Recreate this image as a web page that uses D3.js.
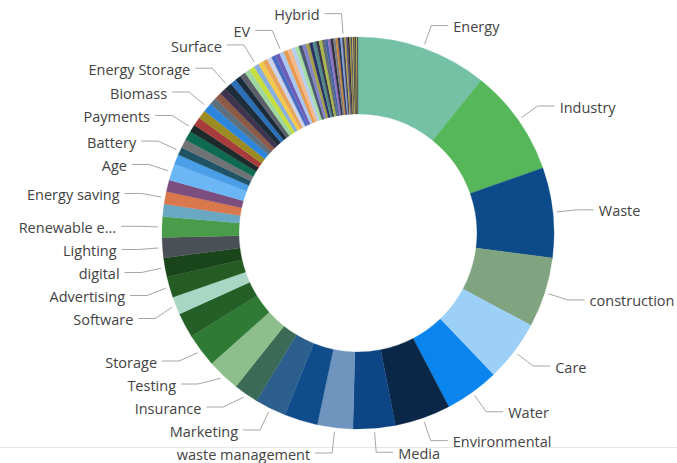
<!DOCTYPE html>
<html>
<head>
<meta charset="utf-8">
<script src="https://cdn.jsdelivr.net/npm/d3@7/dist/d3.min.js"></script>
<style>
  html, body { margin: 0; padding: 0; background: #ffffff; }
  svg { display: block; }
  .lbl { font-family: "Open Sans", "Noto Sans", sans-serif; font-size: 14.5px; fill: #434343; }
  .leader { fill: none; stroke: #a6a6a6; stroke-width: 1; }
</style>
</head>
<body>
<svg id="chart" width="677" height="463"></svg>
<script>
// Topics and their counts, in drawing order (clockwise from 12 o'clock)
const categories = [
  "Energy", "Industry", "Waste", "construction", "Care", "Water", "Environmental",
  "Media", "waste management", "Solar", "Marketing", "Insurance", "Testing", "Storage",
  "Recycling", "Software", "Advertising", "digital", "Lighting", "Renewable energy",
  "Hydrogen", "Energy saving", "Transport", "Age", "Agriculture", "Battery", "Finance",
  "Retail", "Payments", "Health", "Education", "Biomass", "Mobility", "Logistics",
  "Packaging", "Energy Storage",
  "Wind", "Heating", "Cooling", "Insulation", "Smart grid", "Surface", "Carbon capture",
  "Forestry", "Fisheries", "Tourism", "Housing", "EV", "Plastics", "Paper", "Glass",
  "Electronics", "Cloud", "Security", "Consulting", "Legal", "Design", "Research",
  "Training", "Recruitment", "Lending", "Charging", "Fuel cells", "Geothermal",
  "Nuclear", "Biofuel", "Irrigation", "Hybrid", "Desalination", "Textiles", "Food",
  "Chemicals", "Mining", "Steel", "Cement", "Aviation", "Shipping", "Rail", "Metering"
];

const values = [
  389, 317, 267, 208, 182, 161, 166,
  125, 105, 99, 93, 73, 98, 99,
  74, 53, 61, 57, 60, 61,
  37, 37, 35, 49, 29, 24, 25,
  28, 22, 25, 26, 27, 21, 21,
  20, 22,
  18, 17, 17, 16, 16, 15, 15,
  14, 14, 13, 13, 13, 12, 12, 12,
  11, 11, 11, 10, 10, 10, 9,
  9, 9, 8, 8, 8, 7,
  7, 7, 6, 6, 5, 5, 5,
  4, 4, 3, 3, 3, 3, 3, 2
];

// Topics whose names are written beside the ring
const labelled = [
  "Energy", "Industry", "Waste", "construction", "Care", "Water", "Environmental",
  "Media", "waste management", "Marketing", "Insurance", "Testing", "Storage",
  "Software", "Advertising", "digital", "Lighting", "Renewable energy", "Energy saving",
  "Age", "Battery", "Payments", "Biomass", "Energy Storage", "Surface", "EV", "Hybrid"
];

// Slice colours, one per topic
const palette = [
  "#74c1a6", "#55b65a", "#0c4a89", "#7fa47f", "#9dd0f6", "#0b85ee", "#0a2747",
  "#0d4585", "#6f95bf", "#0f4c8b", "#2c5f8e", "#3b6b56", "#8dbe8b", "#2f7a35",
  "#245f28", "#a8d8c5", "#245c24", "#1a451b", "#4b5057", "#4a9b4a",
  "#6aa7c2", "#d9784c", "#7c4d7f", "#6bb7f6", "#4a9fe8", "#1f5467", "#6f7375",
  "#0f6a52", "#1c2a2a", "#a83b3b", "#9b8b22", "#2c86dc", "#5e6f7d", "#8c5a47",
  "#3f3550", "#1e2d3a",
  "#2a6fb8", "#1c2b3a", "#5a5f6a", "#9ed6a0", "#c6de3e", "#88aee0", "#f2c94c",
  "#e9a45c", "#cbd3ea", "#4a6cc2", "#6e5db6", "#a8c8f2", "#e79a4e", "#f3b98a", "#b5cdef",
  "#a6dfa0", "#4b5872", "#8483c8", "#a3a046", "#2b3264", "#4e8c8c", "#3a3a4a",
  "#aaba4a", "#626a74", "#4262a4", "#9273c4", "#31313f", "#747c86",
  "#c2843e", "#2b3a5e", "#8ca0d8", "#3d4456", "#b7a24a", "#5b4e7e", "#2e2e36",
  "#a8963a", "#45506a", "#d4b84c", "#2f3440", "#8a7a3a", "#1f2530", "#c9b24a", "#333a48"
];

const W = 677, H = 463;
const cx = 358, cy = 233;
const rOuter = 196, rInner = 119;
const rLineStart = rOuter + 4, rElbow = 220;
const lineLen = 17, textGap = 22;
const rowGap = 23;             // vertical spacing of labels that would overlap
const yTop = 13 - cy, yBottom = 453 - cy;

const svg = d3.select("#chart");

// faint frame rule near the bottom edge
svg.append("line")
  .attr("x1", 0).attr("x2", W).attr("y1", 447.5).attr("y2", 447.5)
  .attr("stroke", "#e6e6e6").attr("stroke-width", 1);

const data = categories.map((c, i) => ({ name: c, value: values[i], color: palette[i % palette.length] }));

const pie = d3.pie().sort(null).value(d => d.value).startAngle(0).endAngle(2 * Math.PI);
const arcs = pie(data);

const arc = d3.arc().innerRadius(rInner).outerRadius(rOuter);

const g = svg.append("g").attr("transform", `translate(${cx},${cy})`);

g.selectAll("path.slice")
  .data(arcs)
  .join("path")
  .attr("class", "slice")
  .attr("d", arc)
  .attr("fill", d => d.data.color)
  .attr("stroke", d => d.data.color)
  .attr("stroke-width", 0.3);

// polar helper: angle measured clockwise from 12 o'clock
const polar = (r, a) => [r * Math.sin(a), -r * Math.cos(a)];

// elbow x for a label row at height y, kept on the elbow circle
const elbowX = (side, y, fallback) =>
  Math.abs(y) < rElbow - 1 ? side * Math.sqrt(rElbow * rElbow - y * y) : fallback;

const lg = g.append("g");

const labelSet = new Set(labelled);
const items = arcs.filter(d => labelSet.has(d.data.name)).map(d => {
  const a = (d.startAngle + d.endAngle) / 2;
  const side = Math.sin(a) >= 0 ? 1 : -1;
  const p0 = polar(rLineStart, a);
  const p1 = polar(rElbow, a);
  const tx = p1[0] + side * textGap;

  // fit the name within the chart, shortening it with "..." where needed
  const t = lg.append("text").attr("class", "lbl").text(d.data.name);
  const room = side > 0 ? (W - (cx + tx) + 2) : (cx + tx - 16);
  let s = d.data.name;
  if (t.node().getComputedTextLength() > room) {
    while (s.length > 1) {
      s = s.slice(0, -1);
      t.text(s.trimEnd() + "...");
      if (t.node().getComputedTextLength() <= room) break;
    }
  }
  const w = t.node().getComputedTextLength();
  const x0 = side > 0 ? tx : tx - w, x1 = side > 0 ? tx + w : tx;
  return { d, a, side, p0, p1, w, t, x0, x1, y: p1[1] };
});

// spread labels on each side so that overlapping ones keep a row apart
const overlaps = (u, v) => u.x0 < v.x1 + 2 && v.x0 < u.x1 + 2;
[1, -1].forEach(side => {
  const list = items.filter(it => it.side === side).sort((a, b) => a.y - b.y);
  list.forEach((it, i) => {
    it.y = Math.max(it.y, yTop);
    for (let j = 0; j < i; j++) {
      if (overlaps(list[j], it)) it.y = Math.max(it.y, list[j].y + rowGap);
    }
  });
  for (let i = list.length - 1; i >= 0; i--) {
    const it = list[i];
    it.y = Math.min(it.y, yBottom);
    for (let j = i + 1; j < list.length; j++) {
      if (overlaps(list[j], it)) it.y = Math.min(it.y, list[j].y - rowGap);
    }
  }
});

items.forEach(it => {
  const ey = it.y;
  const ex = elbowX(it.side, ey, it.p1[0]);
  lg.append("path")
    .attr("class", "leader")
    .attr("d", `M${it.p0[0]},${it.p0[1]} L${ex},${ey} L${ex + it.side * lineLen},${ey}`);

  it.t
    .attr("x", ex + it.side * textGap)
    .attr("y", ey + 1.5)
    .attr("dy", "0.35em")
    .attr("text-anchor", it.side > 0 ? "start" : "end");
});
</script>
</body>
</html>
